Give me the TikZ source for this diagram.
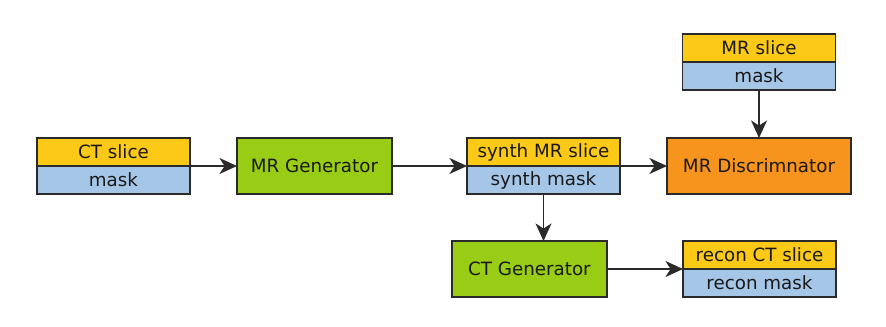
\documentclass[tikz,border=0pt]{standalone}
\usepackage{fontspec}
\setmainfont{DejaVu Sans}
\usetikzlibrary{arrows.meta,positioning}
\definecolor{sliceyellow}{HTML}{FCC917}
\definecolor{maskblue}{HTML}{A6C6E8}
\definecolor{gengreen}{HTML}{99CC14}
\definecolor{discorange}{HTML}{F7941E}
\definecolor{edgegray}{HTML}{2A2A2A}
\tikzset{%
  >={Stealth[length=4.4mm,width=4mm,inset=1.3mm]},
  % Specifications for style of nodes:
            base/.style = {rectangle, draw=edgegray, line width=1pt,
                           inner sep=0pt, outer sep=0pt,
                           text centered, text=black!90,
                           font=\fontsize{13}{15}\selectfont},
       slicebox/.style = {base, minimum width=3.825cm, minimum height=0.7cm,
                           fill=sliceyellow},
       maskbox/.style = {base, minimum width=3.825cm, minimum height=0.7cm,
                           fill=maskblue},
       genbox/.style = {base, minimum width=3.875cm, minimum height=1.4cm,
                           fill=gengreen},
       discbox/.style = {base, minimum width=4.6cm, minimum height=1.4cm,
                           fill=discorange},
}

\begin{document}
\begin{tikzpicture}[line width=1pt, draw=edgegray]
  \useasboundingbox (0,0) rectangle (22.15,-8.175);
  % Specification of nodes (position, etc.)
  \node (ctslice)     [slicebox] at (2.8375,-3.8) {CT slice};
  \node (ctmask)      [maskbox, below=0pt of ctslice] {mask};
  \node (mrgen)       [genbox, right=1.175cm of ctslice.south east] {MR Generator};
  \node (synthslice)  [slicebox, right=1.875cm of mrgen, anchor=south west] {synth MR slice};
  \node (synthmask)   [maskbox, below=0pt of synthslice] {synth mask};
  \node (mrdisc)      [discbox, right=1.175cm of synthslice.south east] {MR Discrimnator};
  \node (mrmask)      [maskbox, above=1.2cm of mrdisc] {mask};
  \node (mrslice)     [slicebox, above=0pt of mrmask] {MR slice};
  \node (ctgen)       [genbox, below=1.175cm of synthmask, xshift=-0.35cm] {CT Generator};
  \node (reconslice)  [slicebox, right=1.9cm of ctgen.north east, anchor=north west] {recon CT slice};
  \node (reconmask)   [maskbox, below=0pt of reconslice] {recon mask};

  \draw[->, edgegray]  (ctslice.south east) -- (mrgen.west);
  \draw[->, edgegray]  (mrgen) -- (synthslice.south west);
  \draw[->, edgegray]  (synthslice.south east) -- (mrdisc.west);
  \draw[->, edgegray]  (mrmask) -- (mrdisc);
  \draw[->, edgegray]  (synthmask) -- (synthmask |- ctgen.north);
  \draw[->, edgegray]  (ctgen) -- (reconslice.south west);
\end{tikzpicture}
\end{document}
